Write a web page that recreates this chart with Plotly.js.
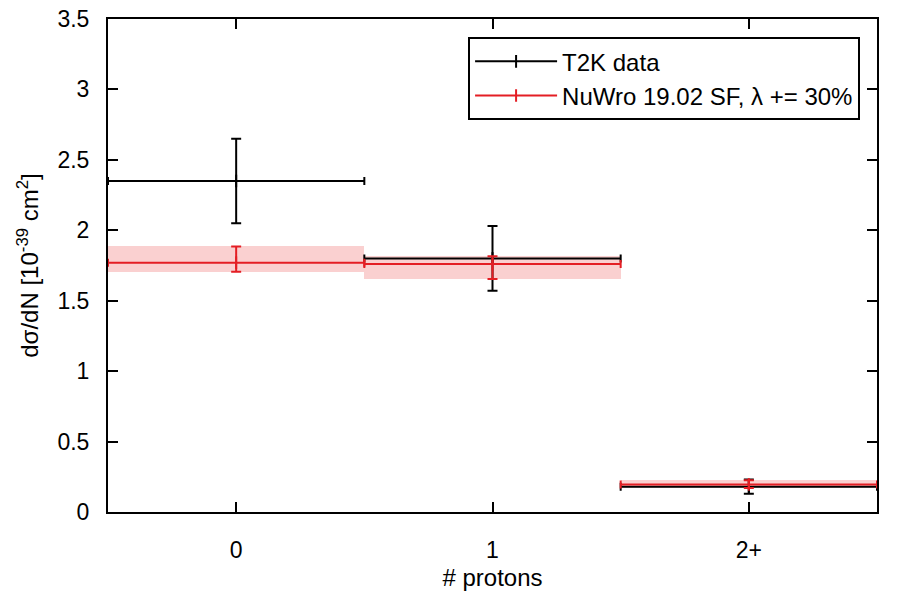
<!DOCTYPE html>
<html>
<head>
<meta charset="utf-8">
<script src="https://cdn.plot.ly/plotly-3.0.1.min.js"></script>
<style>html,body{margin:0;padding:0;background:#fff;}#chart{width:900px;height:600px;}</style>
</head>
<body>
<div id="chart"></div>
<script>
// Categories (# protons)
const binCenters = [0, 1, 2];
const binLabels = ['0', '1', '2+'];
const binHalfWidth = [0.5, 0.5, 0.5];

// T2K data
const t2kValues = [2.35, 1.80, 0.18];
const t2kErrUp = [0.30, 0.23, 0.05];
const t2kErrDown = [0.30, 0.23, 0.05];

// NuWro 19.02 SF, lambda += 30%
const nuwroValues = [1.77, 1.76, 0.196];
const nuwroErrUp = [0.115, 0.055, 0.03];
const nuwroErrDown = [0.065, 0.105, 0.026];

// insert gaps so points are not joined by lines
function gapped(arr) {
  const out = [];
  arr.forEach((v, i) => { if (i > 0) out.push(null); out.push(v); });
  return out;
}

const red = 'rgb(228,30,36)';

const traces = [
  {
    type: 'bar',
    x: binCenters,
    base: nuwroValues.map((v, i) => v - nuwroErrDown[i]),
    y: nuwroValues.map((v, i) => nuwroErrUp[i] + nuwroErrDown[i]),
    width: binHalfWidth.map(w => 2 * w),
    marker: {color: 'rgba(240,110,110,0.32)', line: {width: 0}},
    showlegend: false,
    hoverinfo: 'skip'
  },
  {
    type: 'scatter',
    mode: 'lines+markers',
    name: 'T2K data',
    x: gapped(binCenters),
    y: gapped(t2kValues),
    connectgaps: false,
    line: {color: 'black', width: 2},
    marker: {symbol: 'line-ns-open', size: 9, color: 'black', line: {color: 'black', width: 2}},
    error_x: {type: 'data', array: gapped(binHalfWidth), symmetric: true, color: 'black', thickness: 2, width: 4},
    error_y: {type: 'data', array: gapped(t2kErrUp), arrayminus: gapped(t2kErrDown), symmetric: false, color: 'black', thickness: 2, width: 5}
  },
  {
    type: 'scatter',
    mode: 'lines+markers',
    name: 'NuWro 19.02 SF, λ += 30%',
    x: gapped(binCenters),
    y: gapped(nuwroValues),
    connectgaps: false,
    line: {color: red, width: 2},
    marker: {symbol: 'line-ns-open', size: 9, color: red, line: {color: red, width: 2}},
    error_x: {type: 'data', array: gapped(binHalfWidth), symmetric: true, color: red, thickness: 2, width: 4},
    error_y: {type: 'data', array: gapped(nuwroErrUp), arrayminus: gapped(nuwroErrDown), symmetric: false, color: red, thickness: 2, width: 5}
  }
];

const fam = 'Liberation Sans, Arial, sans-serif';

const layout = {
  width: 900,
  height: 600,
  margin: {l: 108, r: 23, t: 19, b: 88},
  paper_bgcolor: 'white',
  plot_bgcolor: 'white',
  font: {family: fam, size: 23, color: 'black'},
  showlegend: true,
  legend: {
    x: 0.978, xanchor: 'right',
    y: 0.963, yanchor: 'top',
    bordercolor: 'black', borderwidth: 2,
    bgcolor: 'white',
    font: {family: fam, size: 24, color: 'black'},
    itemwidth: 82
  },
  xaxis: {
    range: [-0.5, 2.5],
    tickmode: 'array',
    tickvals: binCenters,
    ticktext: binLabels,
    ticks: 'inside', ticklen: 10, tickwidth: 2, tickcolor: 'black',
    ticklabelstandoff: 16,
    showline: true, linecolor: 'black', linewidth: 2, mirror: 'ticks',
    showgrid: false, zeroline: false,
    tickfont: {family: fam, size: 23, color: 'black'},
    title: {text: '# protons', font: {family: fam, size: 24, color: 'black'}, standoff: 8}
  },
  yaxis: {
    range: [0, 3.5],
    tickmode: 'array',
    tickvals: [0, 0.5, 1, 1.5, 2, 2.5, 3, 3.5],
    ticktext: ['0', '0.5', '1', '1.5', '2', '2.5', '3', '3.5'],
    ticks: 'inside', ticklen: 10, tickwidth: 2, tickcolor: 'black',
    ticklabelstandoff: 12,
    showline: true, linecolor: 'black', linewidth: 2, mirror: 'ticks',
    showgrid: false, zeroline: false,
    tickfont: {family: fam, size: 23, color: 'black'},
    title: {text: 'dσ/dN [10<sup>-39</sup> cm<sup>2</sup>]', font: {family: fam, size: 24, color: 'black'}, standoff: 12}
  },
  bargap: 0
};

Plotly.newPlot('chart', traces, layout, {displayModeBar: false, staticPlot: true});
</script>
</body>
</html>
